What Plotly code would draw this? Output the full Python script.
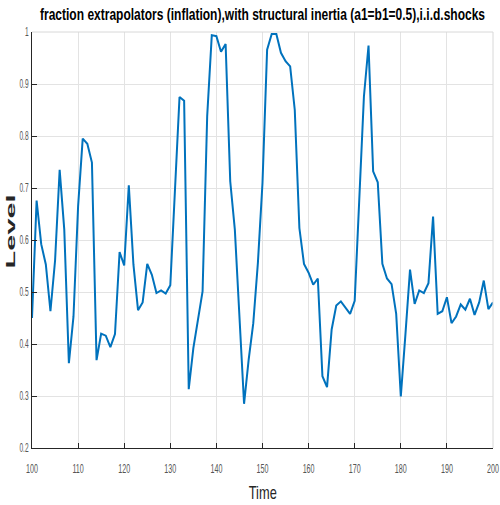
import plotly.graph_objects as go

time = list(range(100, 201))
level = [
    0.450, 0.676, 0.592, 0.553, 0.463, 0.560, 0.735, 0.620, 0.363, 0.453,  # 100-109
    0.665, 0.795, 0.785, 0.749, 0.369, 0.420, 0.416, 0.394, 0.419, 0.577,  # 110-119
    0.551, 0.705, 0.553, 0.465, 0.480, 0.554, 0.533, 0.498, 0.503, 0.497,  # 120-129
    0.513, 0.690, 0.875, 0.868, 0.313, 0.392, 0.445, 0.501, 0.838, 0.994,  # 130-139
    0.992, 0.962, 0.977, 0.713, 0.620, 0.447, 0.285, 0.370, 0.440, 0.556,  # 140-149
    0.710, 0.966, 0.996, 0.996, 0.960, 0.944, 0.934, 0.850, 0.623, 0.554,  # 150-159
    0.537, 0.514, 0.526, 0.338, 0.317, 0.428, 0.474, 0.482, 0.471, 0.458,  # 160-169
    0.483, 0.680, 0.876, 0.974, 0.732, 0.711, 0.554, 0.526, 0.515, 0.458,  # 170-179
    0.299, 0.418, 0.543, 0.477, 0.503, 0.498, 0.517, 0.645, 0.458, 0.463,  # 180-189
    0.490, 0.440, 0.453, 0.476, 0.466, 0.487, 0.456, 0.480, 0.522, 0.467,  # 190-199
    0.480,                                                                 # 200
]
x_ticks = list(range(100, 201, 10))
y_ticks = [0.2, 0.3, 0.4, 0.5, 0.6, 0.7, 0.8, 0.9, 1.0]
y_tick_labels = ["0.2", "0.3", "0.4", "0.5", "0.6", "0.7", "0.8", "0.9", "1"]

title_text = "fraction extrapolators (inflation),with structural inertia (a1=b1=0.5),i.i.d.shocks"

sans = "Liberation Sans, Arial, sans-serif"

fig = go.Figure()
fig.add_trace(go.Scatter(
    x=time, y=level, mode="lines",
    line=dict(color="#0072BD", width=2),
    showlegend=False,
))

fig.update_layout(
    width=500, height=505,
    margin=dict(l=32, r=7, t=32, b=57, autoexpand=False),
    paper_bgcolor="white", plot_bgcolor="white",
    xaxis=dict(
        range=[100, 200], tickvals=x_ticks, automargin=False,
        showgrid=True, gridcolor="#e3e3e3", gridwidth=1,
        showline=True, linecolor="#262626", linewidth=1,
        ticks="inside", ticklen=5, tickcolor="#262626",
        tickfont=dict(family=sans, size=13, color="#555555"),
        ticklabelstandoff=8, ticklabeloverflow="allow",
        zeroline=False,
    ),
    yaxis=dict(
        range=[0.2, 1.0], tickvals=y_ticks, ticktext=y_tick_labels, automargin=False,
        showgrid=True, gridcolor="#e3e3e3", gridwidth=1,
        showline=True, linecolor="#262626", linewidth=1,
        ticks="inside", ticklen=5, tickcolor="#262626",
        tickfont=dict(family=sans, size=12, color="#555555"),
        ticklabeloverflow="allow",
        zeroline=False,
    ),
    annotations=[
        dict(text="<b>" + title_text + "</b>", xref="paper", yref="paper",
             x=0.5, y=1.0, yshift=18, xanchor="center", yanchor="middle", showarrow=False,
             font=dict(family=sans, size=16, color="black")),
        dict(text="Time", xref="paper", yref="paper",
             x=0.5, y=0, yshift=-44, xanchor="center", yanchor="middle", showarrow=False,
             font=dict(family=sans, size=19, color="#262626")),
        dict(text="<b>Level</b>", xref="paper", yref="paper",
             x=0, xshift=-22, y=0.5, yshift=8, xanchor="center", yanchor="middle", showarrow=False,
             textangle=-90,
             font=dict(family=sans, size=13, color="#262626")),
    ],
)

# light top and right box edges
fig.add_shape(type="line", xref="paper", yref="paper", x0=0, x1=1, y0=1, y1=1,
              line=dict(color="#d8d8d8", width=1))
fig.add_shape(type="line", xref="paper", yref="paper", x0=1, x1=1, y0=0, y1=1,
              line=dict(color="#d8d8d8", width=1))

# remove page margin and give texts the condensed look of the original
post = """
document.body.style.margin = '0';
var gd = document.getElementById('{plot_id}');
function fit(t, len) {
  t.setAttribute('textLength', len);
  t.setAttribute('lengthAdjust', 'spacingAndGlyphs');
}
var ann = gd.querySelectorAll('.annotation-text');
var lens = [445, 28, 74];
for (var i = 0; i < ann.length && i < lens.length; i++) { fit(ann[i], lens[i]); }
gd.querySelectorAll('.xtick text, .ytick text').forEach(function(t) {
  fit(t, t.getComputedTextLength() * 0.55);
});
"""

fig.write_html("out.html", post_script=post, config={"displayModeBar": False})
